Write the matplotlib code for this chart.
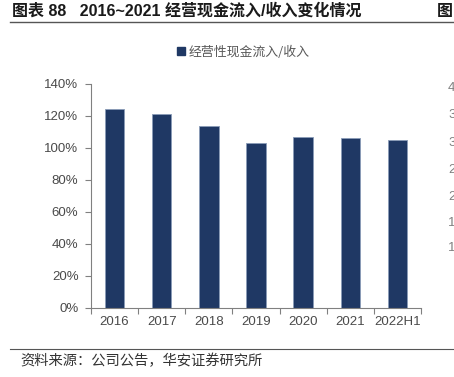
import matplotlib
matplotlib.use("Agg")
import matplotlib.pyplot as plt
from matplotlib.lines import Line2D
from matplotlib.ticker import FuncFormatter

plt.rcParams['font.family'] = ['Liberation Sans', 'Noto Sans CJK SC', 'DejaVu Sans']

categories = ['2016', '2017', '2018', '2019', '2020', '2021', '2022H1']
values = [1.242, 1.212, 1.140, 1.029, 1.070, 1.062, 1.050]
series_name = '经营性现金流入/收入'
y_ticks = [0, 0.2, 0.4, 0.6, 0.8, 1.0, 1.2, 1.4]
title_text = '图表 88   2016~2021 经营现金流入/收入变化情况'
source_text = '资料来源：公司公告，华安证券研究所'
side_labels = ['4', '3', '3', '2', '2', '1', '1']

W, H = 454, 377
fig = plt.figure(figsize=(W / 100, H / 100), dpi=100)
fig.patch.set_facecolor('white')

def fx(px):
    return px / W

def fy(py):
    return 1 - py / H

ax = fig.add_axes([fx(91), fy(308), fx(421) - fx(91), fy(84) - fy(308)])
bar_color = '#1F3864'
x = list(range(len(categories)))
ax.bar(x, values, width=0.41, color=bar_color, edgecolor='#8A9BB8', linewidth=0.6, zorder=2)

ax.set_xlim(-0.5, len(categories) - 0.5)
ax.set_ylim(0, 1.4)
ax.set_yticks(y_ticks)
ax.yaxis.set_major_formatter(FuncFormatter(lambda v, p: f'{v*100:.0f}%'))
ax.set_xticks([i - 0.5 for i in range(len(categories) + 1)])
ax.set_xticklabels([])
ax.set_xticks(x, minor=True)
ax.set_xticklabels(categories, minor=True)
ax.tick_params(axis='x', which='minor', length=0, pad=6, labelsize=9.5, labelcolor='#4a4a4a')
ax.tick_params(axis='x', which='major', length=4, width=0.8, color='#808080', direction='out')
ax.tick_params(axis='y', length=4, width=0.8, color='#808080', direction='out', pad=5,
               labelsize=9.5, labelcolor='#4a4a4a')
for s in ['top', 'right']:
    ax.spines[s].set_visible(False)
for s in ['left', 'bottom']:
    ax.spines[s].set_color('#808080')
    ax.spines[s].set_linewidth(0.8)

# legend
handle = Line2D([], [], marker='s', linestyle='none', markersize=6, color=bar_color)
fig.legend([handle], [series_name], loc='center', bbox_to_anchor=(fx(243), fy(52)),
           frameon=False, handletextpad=0.2, handlelength=0.8,
           prop={'family': ['Noto Sans CJK SC'], 'size': 9.3}, labelcolor='#595959')

# title & rules
fig.text(fx(12), fy(11), title_text, fontsize=11.5, fontweight='bold', color='#1a1a1a',
         va='center', ha='left', family=['Liberation Sans', 'Noto Sans CJK SC'])
fig.text(fx(437), fy(11), '图', fontsize=11.5, fontweight='bold', color='#1a1a1a',
         va='center', ha='left', family=['Noto Sans CJK SC'])
fig.add_artist(Line2D([fx(10), fx(454)], [fy(22), fy(22)], color='#555555', linewidth=1.0))
fig.add_artist(Line2D([fx(10), fx(454)], [fy(349), fy(349)], color='#555555', linewidth=0.8))
fig.text(fx(20), fy(361), source_text, fontsize=10.3, color='#333333', va='center', ha='left',
         family=['Noto Sans CJK SC'])

# clipped labels of neighbouring chart
side_y = [88, 115, 143, 170, 197, 223, 248]
for lab, yy in zip(side_labels, side_y):
    fig.text(fx(448), fy(yy), lab, fontsize=9.5, color='#808080', va='center', ha='left')

fig.savefig('out.png', dpi=100)
